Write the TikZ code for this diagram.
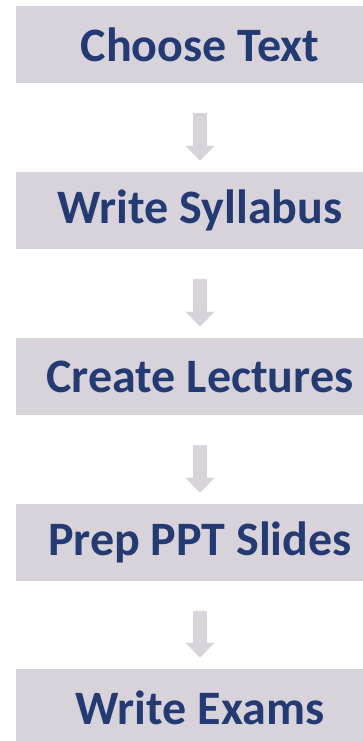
\documentclass[tikz,border=0pt]{standalone}
\usepackage{fontspec}
\setmainfont{Carlito}
\usetikzlibrary{arrows.meta,calc}
\definecolor{boxgray}{HTML}{D8D3DA}
\definecolor{navy}{HTML}{243A73}
\tikzset{
  stepbox/.style={rectangle, fill=boxgray, minimum width=368pt, minimum height=77pt,
    inner sep=0pt, text=navy, font=\fontsize{48}{50}\selectfont\bfseries},
  blockarrow/.style={draw=boxgray, line width=14pt, -{Triangle[width=28pt,length=15pt]}}
}
\begin{document}
\begin{tikzpicture}[x=1pt,y=1pt]
\useasboundingbox (0,0) rectangle (363,741);
\node[stepbox] (s1) at (200,{741-44.5}) {Choose Text};
\node[stepbox] (s2) at (200,{741-210.5}) {Write Syllabus};
\node[stepbox] (s3) at (200,{741-376.5}) {Create Lectures};
\node[stepbox] (s4) at (200,{741-542.5}) {Prep PPT Slides};
\node[stepbox] (s5) at (200,{741-707.5}) {Write Exams};
\foreach \a/\b in {s1/s2,s2/s3,s3/s4,s4/s5}{
  \draw[blockarrow] ($(\a.south)+(0,-30)$) -- ($(\b.north)+(0,11)$);
}
\end{tikzpicture}
\end{document}
